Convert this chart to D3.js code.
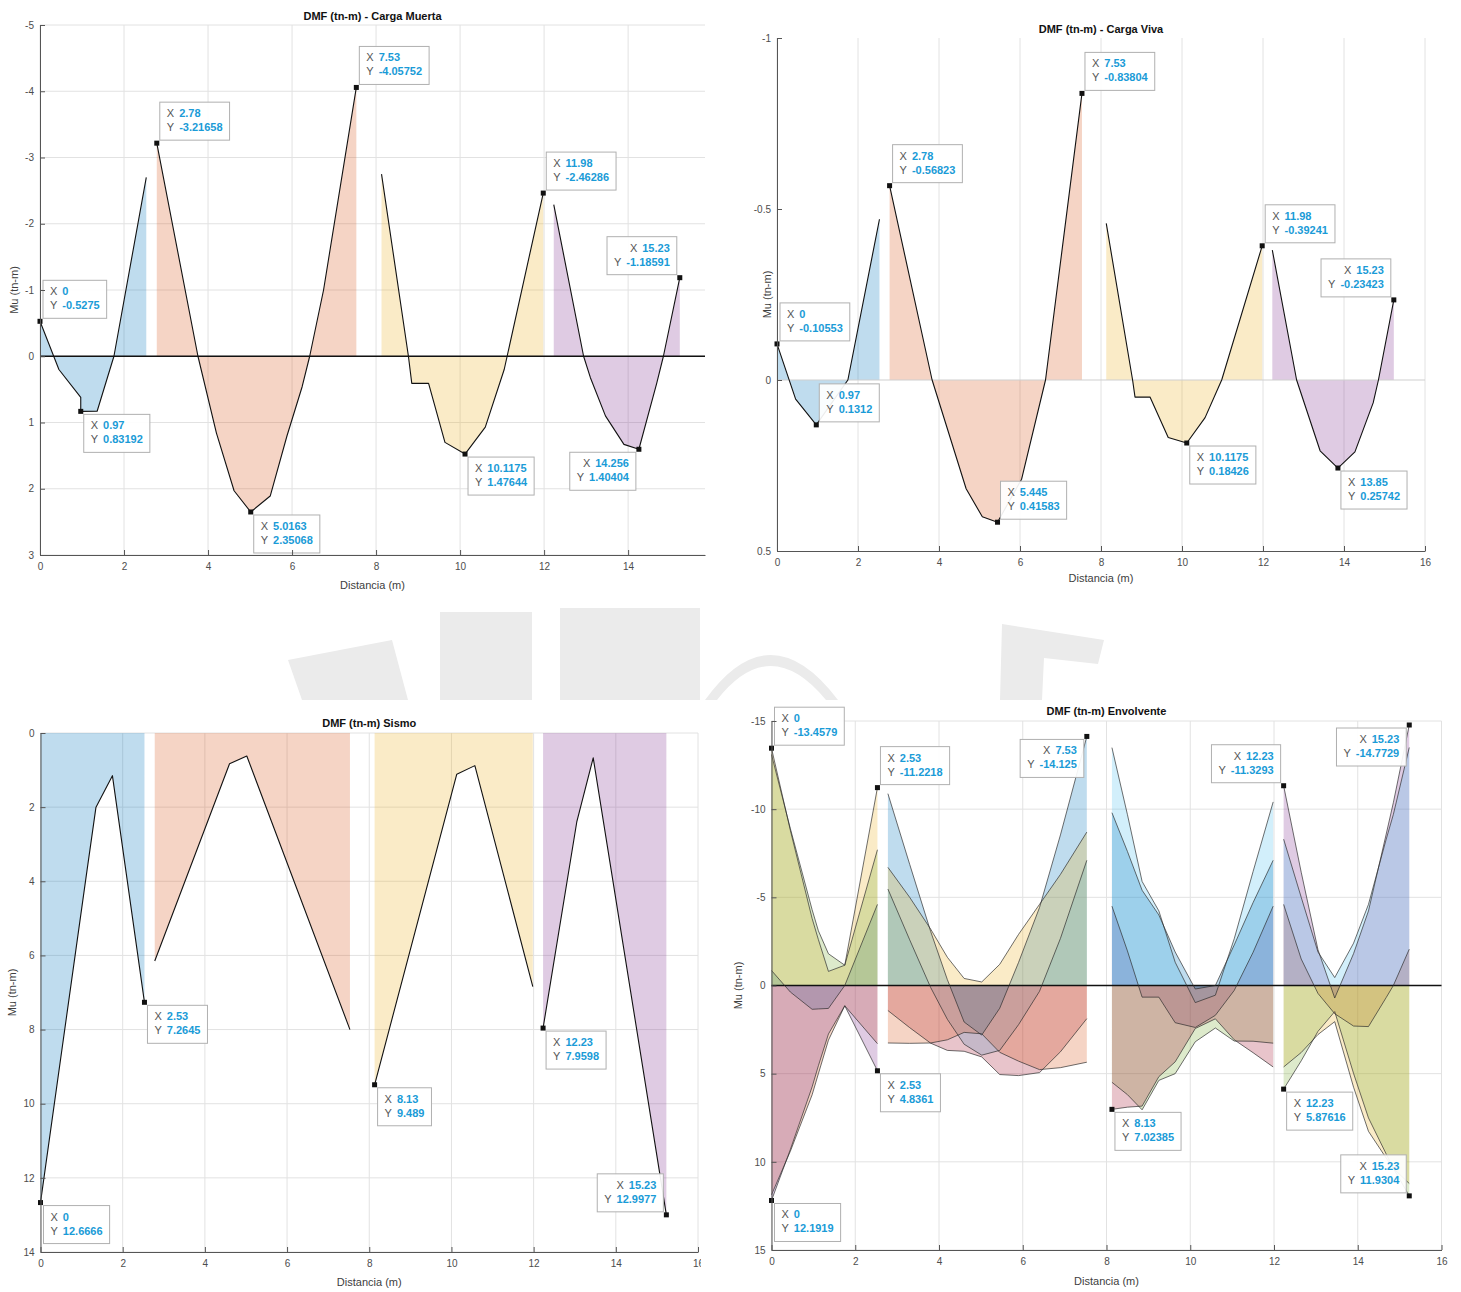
<!DOCTYPE html>
<html>
<head>
<meta charset="utf-8">
<script src="https://cdn.jsdelivr.net/npm/d3@7"></script>
<style>
  body { margin: 0; background: #fff; }
  svg { display: block; }
</style>
</head>
<body>
<svg id="fig" width="1461" height="1292"></svg>
<script>
// ---------------- Data (moments in tn-m, distances in m) ----------------

// Carga Muerta: one polyline per span
const cmX = [
  [0, 0.45, 0.97, 0.97, 1.36, 1.76, 2.53],
  [2.78, 3.76, 4.2, 4.62, 5.0163, 5.48, 5.88, 6.24, 6.42, 6.75, 7.53],
  [8.13, 8.77, 8.85, 9.25, 9.64, 10.1175, 10.6, 11.05, 11.98],
  [12.23, 12.94, 13.1, 13.46, 13.9, 14.256, 14.68, 14.84, 15.23]
];
const cmY = [
  [-0.5275, 0.2, 0.62, 0.83192, 0.83, 0, -2.7],
  [-3.21658, 0, 1.16, 2.03, 2.35068, 2.11, 1.2, 0.46, 0, -1.0, -4.05752],
  [-2.75, 0, 0.41, 0.41, 1.3, 1.47644, 1.07, 0.2, -2.46286],
  [-2.29, 0, 0.32, 0.9, 1.33, 1.40404, 0.41, 0, -1.18591]
];
const cmTipX = [0, 0.97, 2.78, 5.0163, 7.53, 10.1175, 11.98, 14.256, 15.23];
const cmTipY = [-0.5275, 0.83192, -3.21658, 2.35068, -4.05752, 1.47644, -2.46286, 1.40404, -1.18591];

// Carga Viva
const cvX = [
  [0, 0.46, 0.97, 1.75, 2.53],
  [2.78, 3.83, 4.67, 5.07, 5.445, 6.04, 6.63, 7.53],
  [8.13, 8.78, 8.84, 9.21, 9.66, 10.1175, 10.57, 10.98, 11.98],
  [12.23, 12.83, 13.41, 13.85, 14.27, 14.72, 14.85, 15.23]
];
const cvY = [
  [-0.10553, 0.056, 0.1312, 0, -0.47],
  [-0.56823, 0, 0.318, 0.4, 0.41583, 0.29, 0, -0.83804],
  [-0.458, 0, 0.05, 0.05, 0.168, 0.18426, 0.11, 0, -0.39241],
  [-0.38, 0, 0.207, 0.25742, 0.21, 0.067, 0, -0.23423]
];
const cvTipX = [0, 0.97, 2.78, 5.445, 7.53, 10.1175, 11.98, 13.85, 15.23];
const cvTipY = [-0.10553, 0.1312, -0.56823, 0.41583, -0.83804, 0.18426, -0.39241, 0.25742, -0.23423];

// Sismo
const csX = [
  [0, 1.12, 1.35, 1.75, 2.53],
  [2.78, 4.6, 5.02, 7.53],
  [8.13, 10.13, 10.57, 11.98],
  [12.23, 13.05, 13.45, 15.23]
];
const csY = [
  [12.6666, 3.8, 2.0, 1.15, 7.2645],
  [6.15, 0.83, 0.62, 8.0],
  [9.489, 1.11, 0.88, 6.84],
  [7.9598, 2.4, 0.67, 12.9977]
];
const csTipX = [0, 2.53, 8.13, 12.23, 15.23];
const csTipY = [12.6666, 7.2645, 9.489, 7.9598, 12.9977];

// Envolvente: five load combinations per span
const envX = [
  [0, 0.45, 0.97, 1.12, 1.36, 1.75, 2.53],
  [2.78, 3.3, 3.8, 4.2, 4.6, 5.02, 5.45, 5.9, 6.4, 6.9, 7.53],
  [8.13, 8.5, 8.85, 9.25, 9.64, 10.12, 10.6, 11.05, 11.5, 11.98],
  [12.23, 12.65, 13.05, 13.45, 13.9, 14.256, 14.68, 14.85, 15.23]
];
const envU = [
  [-0.85, 0.37, 1.35, 1.33, 1.3, 0, -4.6],
  [-5.47, -2.59, 0.11, 1.92, 3.33, 3.95, 3.68, 2.22, 0.33, -2.67, -7.1],
  [-4.5, -1.96, 0.66, 0.66, 2.11, 2.38, 1.69, 0.28, -1.88, -4.5],
  [-4.6, -1.5, 0.45, 1.6, 2.3, 2.33, 0.68, 0, -2.06]
];
const envAp = [
  [11.87, 9.4, 6.2, 5.0, 3.1, 1.15, 3.3],
  [1.42, 2.39, 3.27, 3.68, 3.73, 4.05, 5.05, 5.11, 4.94, 3.76, 1.88],
  [5.49, 6.19, 7.05, 5.38, 5.0, 3.19, 2.41, 3.15, 3.16, 3.27],
  [4.62, 3.8, 2.78, 2.05, 5.77, 8.27, 9.79, 10.37, 11.23]
];
const envAm = [
  [-13.4579, -8.8, -3.8, -2.6, -0.8, -1.15, -11.2218],
  [-10.88, -6.87, -3.07, -0.33, 2.07, 2.81, 1.29, -1.31, -4.42, -8.54, -14.125],
  [-13.49, -9.69, -5.9, -4.23, -1.32, 0.97, 0.55, -2.65, -6.46, -10.41],
  [-11.3293, -6.42, -2.03, 0.71, -1.81, -4.23, -8.59, -10.37, -14.7729]
];
const envBp = [
  [12.1919, 9.3, 5.75, 4.55, 2.75, 1.15, 4.8361],
  [3.26, 3.28, 3.26, 3.08, 2.66, 2.74, 3.79, 4.29, 4.77, 4.66, 4.35],
  [7.02385, 6.9, 6.84, 5.17, 4.33, 2.44, 1.89, 3.08, 3.81, 4.62],
  [5.87616, 4.27, 2.6, 1.48, 4.99, 7.51, 9.56, 10.37, 11.9304]
];
const envBm = [
  [-13.1, -8.9, -4.3, -3.1, -1.8, -1.15, -7.7],
  [-6.7, -5.0, -3.2, -1.6, -0.4, -0.2, -1.2, -2.9, -4.6, -6.3, -8.7],
  [-9.8, -7.6, -5.4, -4.0, -1.9, 0.2, 0.0, -2.3, -4.7, -7.1],
  [-8.3, -5.0, -1.9, -0.45, -2.4, -4.6, -8.3, -9.7, -13.5]
];
const envTipX = [0, 0, 2.53, 2.53, 7.53, 8.13, 12.23, 12.23, 15.23, 15.23];
const envTipY = [-13.4579, 12.1919, -11.2218, 4.8361, -14.125, 7.02385, -11.3293, 5.87616, -14.7729, 11.9304];

// Axis ticks
const xTicks16 = [0, 2, 4, 6, 8, 10, 12, 14, 16];
const xTicks14 = [0, 2, 4, 6, 8, 10, 12, 14];
const cmYTicks = [-5, -4, -3, -2, -1, 0, 1, 2, 3];
const cvYTicks = [-1, -0.5, 0, 0.5];
const csYTicks = [0, 2, 4, 6, 8, 10, 12, 14];
const envYTicks = [-15, -10, -5, 0, 5, 10, 15];

// ---------------- Styling ----------------
const FONT = '"Liberation Sans", Arial, Helvetica, sans-serif';
const palette = ['#0072BD', '#D95319', '#EDB120', '#7E2F8E', '#77AC30', '#4DBEEE', '#A2142F'];
const FILL_ALPHA = 0.25;
const TIP_VALUE = '#1a9bd7';
const TIP_LABEL = '#555';

const svg = d3.select('#fig');
const defs = svg.append('defs');

// Faint watermark shapes behind the figure
const wm = svg.append('g').attr('fill', '#ebebeb').attr('stroke', 'none');
wm.append('path').attr('d', 'M288,660 L392,640 L408,700 L302,700 Z');
wm.append('rect').attr('x', 440).attr('y', 612).attr('width', 92).attr('height', 88);
wm.append('rect').attr('x', 560).attr('y', 608).attr('width', 140).attr('height', 92);
wm.append('path').attr('d', 'M705,700 Q770,610 838,700 L826,700 Q770,632 717,700 Z');
wm.append('path').attr('d', 'M1002,624 L1104,640 L1098,664 L1044,658 L1042,700 L1000,700 Z');

function makePanel(cfg) {
  const g = svg.append('g');
  if (cfg.clipRight) {
    const id = 'clip-' + cfg.name;
    defs.append('clipPath').attr('id', id)
      .append('rect').attr('x', 0).attr('y', cfg.top - 40)
      .attr('width', cfg.clipRight).attr('height', cfg.bottom - cfg.top + 80);
    g.attr('clip-path', `url(#${id})`);
  }
  const x = d3.scaleLinear().domain(cfg.xDomain).range([cfg.left, cfg.right]);
  const y = d3.scaleLinear().domain(cfg.yDomain).range([cfg.top, cfg.bottom]);

  const grid = g.append('g').attr('stroke', '#e2e2e2').attr('stroke-width', 1);
  if (cfg.xGrid) {
    grid.selectAll('line.vx').data(cfg.xTicks).join('line').attr('class', 'vx')
      .attr('x1', d => x(d)).attr('x2', d => x(d))
      .attr('y1', cfg.top).attr('y2', cfg.bottom);
  }
  if (cfg.yGrid) {
    grid.selectAll('line.hy').data(cfg.yTicks).join('line').attr('class', 'hy')
      .attr('x1', cfg.left).attr('x2', cfg.right)
      .attr('y1', d => y(d)).attr('y2', d => y(d));
  }
  const plot = g.append('g');
  const over = g.append('g');
  return { g, plot, over, x, y, cfg };
}

function drawAxes(p) {
  const { g, x, y, cfg } = p;
  const styleAxis = sel => {
    sel.attr('font-family', FONT).attr('font-size', 10);
    sel.select('.domain').attr('stroke', '#555');
    sel.selectAll('.tick line').attr('stroke', '#555');
    sel.selectAll('.tick text').attr('fill', '#4d4d4d');
  };
  g.append('g').attr('transform', `translate(0,${cfg.bottom})`)
    .call(d3.axisBottom(x).tickValues(cfg.xTicks).tickFormat(d => String(d))
      .tickSizeInner(-5).tickSizeOuter(0).tickPadding(8))
    .call(styleAxis);
  g.append('g').attr('transform', `translate(${cfg.left},0)`)
    .call(d3.axisLeft(y).tickValues(cfg.yTicks).tickFormat(d => String(d))
      .tickSizeInner(-5).tickSizeOuter(0).tickPadding(6))
    .call(styleAxis);

  const cx = (cfg.left + cfg.right) / 2;
  const cy = (cfg.top + cfg.bottom) / 2;
  g.append('text').attr('x', cx).attr('y', cfg.titleY)
    .attr('text-anchor', 'middle').attr('font-family', FONT)
    .attr('font-size', 11).attr('font-weight', 'bold').attr('fill', '#111')
    .text(cfg.title);
  g.append('text').attr('x', cx).attr('y', cfg.xLabelY)
    .attr('text-anchor', 'middle').attr('font-family', FONT)
    .attr('font-size', 11).attr('fill', '#404040')
    .text('Distancia (m)');
  g.append('text')
    .attr('transform', `translate(${cfg.yLabelX},${cy}) rotate(-90)`)
    .attr('text-anchor', 'middle').attr('font-family', FONT)
    .attr('font-size', 11).attr('fill', '#404040')
    .text('Mu (tn-m)');
}

function baseline(p, color, width) {
  const { plot, x, y, cfg } = p;
  plot.append('line')
    .attr('x1', cfg.left).attr('x2', cfg.right)
    .attr('y1', y(0)).attr('y2', y(0))
    .attr('stroke', color).attr('stroke-width', width);
}

function drawSpans(p, xs, ys, lineColor, lineWidth) {
  const { plot, x, y } = p;
  const area = d3.area().x(d => x(d[0])).y0(y(0)).y1(d => y(d[1]));
  const line = d3.line().x(d => x(d[0])).y(d => y(d[1]));
  xs.forEach((xx, i) => {
    const pts = xx.map((v, j) => [v, ys[i][j]]);
    plot.append('path').attr('d', area(pts))
      .attr('fill', palette[i % palette.length]).attr('fill-opacity', FILL_ALPHA);
  });
  return () => xs.forEach((xx, i) => {
    const pts = xx.map((v, j) => [v, ys[i][j]]);
    plot.append('path').attr('d', line(pts))
      .attr('fill', 'none').attr('stroke', lineColor).attr('stroke-width', lineWidth)
      .attr('stroke-linejoin', 'round');
  });
}

function dataTips(p, tx, ty, sides) {
  const { over, x, y } = p;
  tx.forEach((xv, i) => {
    const yv = ty[i];
    const px = x(xv), py = y(yv);
    const side = sides[i];
    const alignRight = side[1] === 'w';
    const t = over.append('g');
    const rect = t.append('rect');
    const rows = [['X', xv], ['Y', yv]].map(([lab, val]) => {
      const txt = t.append('text').attr('font-family', FONT).attr('font-size', 11)
        .attr('text-anchor', alignRight ? 'end' : 'start');
      txt.append('tspan').attr('fill', TIP_LABEL).text(lab);
      txt.append('tspan').attr('dx', 5).attr('fill', TIP_VALUE)
        .attr('font-weight', 'bold').text(String(val));
      return txt;
    });
    const w = Math.max(...rows.map(r => r.node().getComputedTextLength())) + 19;
    const h = 38;
    const gap = 3;
    const x0 = alignRight ? px - gap - w : px + gap;
    const y0 = side[0] === 'n' ? py - gap - h : py + gap;
    rect.attr('x', x0).attr('y', y0).attr('width', w).attr('height', h)
      .attr('fill', '#fff').attr('fill-opacity', 0.92)
      .attr('stroke', '#b0b0b0').attr('stroke-width', 1);
    rows.forEach((r, k) => {
      r.attr('x', alignRight ? x0 + w - 7 : x0 + 7).attr('y', y0 + 15 + k * 14);
    });
    over.append('rect').attr('x', px - 2.5).attr('y', py - 2.5)
      .attr('width', 5).attr('height', 5).attr('fill', '#111');
  });
}

// ---------------- DMF - Carga Muerta ----------------
const p1 = makePanel({
  name: 'cm', left: 40, right: 705, top: 25, bottom: 555,
  xDomain: [0, 15.83], yDomain: [-5, 3],
  xTicks: xTicks14, yTicks: cmYTicks, xGrid: true, yGrid: true,
  title: 'DMF (tn-m) - Carga Muerta', titleY: 20, xLabelY: 589, yLabelX: 18
});
const cmLines = drawSpans(p1, cmX, cmY, '#111', 1.1);
baseline(p1, '#111', 1.3);
cmLines();
drawAxes(p1);
dataTips(p1, cmTipX, cmTipY, ['ne', 'se', 'ne', 'se', 'ne', 'se', 'ne', 'sw', 'nw']);

// ---------------- DMF - Carga Viva ----------------
const p2 = makePanel({
  name: 'cv', left: 777, right: 1425, top: 38, bottom: 551,
  xDomain: [0, 16], yDomain: [-1, 0.5],
  xTicks: xTicks16, yTicks: cvYTicks, xGrid: true, yGrid: false,
  title: 'DMF (tn-m) - Carga Viva', titleY: 33, xLabelY: 582, yLabelX: 771
});
const cvLines = drawSpans(p2, cvX, cvY, '#111', 1.1);
baseline(p2, '#cfcfcf', 1);
cvLines();
drawAxes(p2);
dataTips(p2, cvTipX, cvTipY, ['ne', 'ne', 'ne', 'ne', 'ne', 'se', 'ne', 'se', 'nw']);

// ---------------- DMF - Sismo ----------------
const p3 = makePanel({
  name: 'cs', left: 40.5, right: 698, top: 733, bottom: 1252, clipRight: 701,
  xDomain: [0, 16], yDomain: [0, 14],
  xTicks: xTicks16, yTicks: csYTicks, xGrid: true, yGrid: true,
  title: 'DMF (tn-m) Sismo', titleY: 727, xLabelY: 1286, yLabelX: 16
});
const csLines = drawSpans(p3, csX, csY, '#111', 1.1);
csLines();
drawAxes(p3);
dataTips(p3, csTipX, csTipY, ['se', 'se', 'se', 'se', 'nw']);

// ---------------- DMF - Envolvente ----------------
const p4 = makePanel({
  name: 'env', left: 771.5, right: 1441.5, top: 721, bottom: 1250,
  xDomain: [0, 16], yDomain: [-15, 15],
  xTicks: xTicks16, yTicks: envYTicks, xGrid: true, yGrid: true,
  title: 'DMF (tn-m) Envolvente', titleY: 715, xLabelY: 1285, yLabelX: 742
});
{
  const { plot, x, y } = p4;
  const combos = [envU, envAp, envAm, envBp, envBm];
  const area = d3.area().x(d => x(d[0])).y0(y(0)).y1(d => y(d[1]));
  const line = d3.line().x(d => x(d[0])).y(d => y(d[1]));
  envX.forEach((xx, s) => {
    combos.forEach((combo, k) => {
      const pts = xx.map((v, j) => [v, combo[s][j]]);
      plot.append('path').attr('d', area(pts))
        .attr('fill', palette[(s * combos.length + k) % palette.length])
        .attr('fill-opacity', FILL_ALPHA);
    });
  });
  baseline(p4, '#111', 1.3);
  envX.forEach((xx, s) => {
    combos.forEach(combo => {
      const pts = xx.map((v, j) => [v, combo[s][j]]);
      plot.append('path').attr('d', line(pts))
        .attr('fill', 'none').attr('stroke', '#2a2a2a').attr('stroke-width', 0.8)
        .attr('stroke-opacity', 0.85).attr('stroke-linejoin', 'round');
    });
  });
}
drawAxes(p4);
dataTips(p4, envTipX, envTipY, ['ne', 'se', 'ne', 'se', 'sw', 'se', 'nw', 'se', 'sw', 'nw']);
</script>
</body>
</html>
